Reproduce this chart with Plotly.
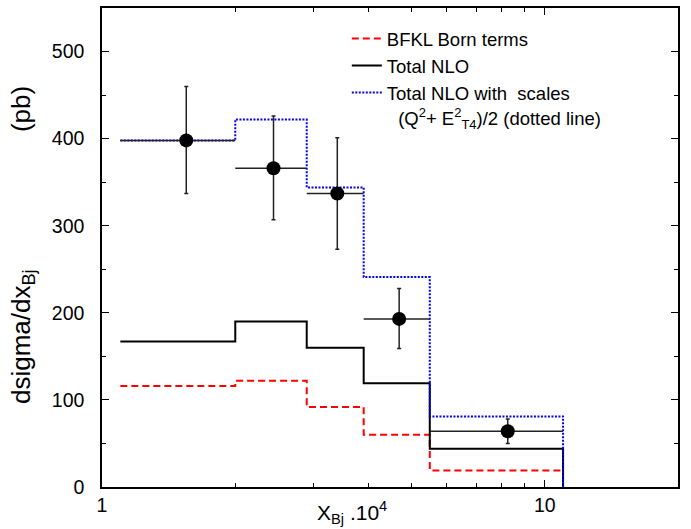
import plotly.graph_objects as go

# ---- data ----
bin_edges = [1.1, 2.0, 2.9, 3.9, 5.5, 11.0]
bfkl_born = [116, 122, 92, 60, 19]
total_nlo = [167, 190, 160, 119, 44]
total_nlo_scales = [398, 422, 344, 241, 81]

data_x = [1.55, 2.44, 3.40, 4.69, 8.25]
data_y = [398, 366, 337, 193, 64]
data_y_hi = [460, 426, 401, 228, 78]
data_y_lo = [337, 307, 273, 159, 50]
data_x_lo = [1.1, 2.0, 2.9, 3.9, 5.5]
data_x_hi = [2.0, 2.9, 3.9, 5.5, 11.0]

y_ticks = [0, 100, 200, 300, 400, 500]
x_ticks = [1, 10]
x_minor = [2, 3, 4, 5, 6, 7, 8, 9, 20]


def step(vals, drop=True):
    xs = list(bin_edges)
    ys = list(vals) + [vals[-1]]
    if drop:
        xs.append(bin_edges[-1])
        ys.append(0)
    return xs, ys


FONT = "Liberation Sans, Arial, Helvetica, sans-serif"
fig = go.Figure()

xs, ys = step(bfkl_born, drop=False)
fig.add_trace(go.Scatter(x=xs, y=ys, mode="lines", line_shape="hv",
                         line=dict(color="#ff0000", width=2, dash="7px,4px"),
                         name="BFKL Born terms"))
xs, ys = step(total_nlo)
fig.add_trace(go.Scatter(x=xs, y=ys, mode="lines", line_shape="hv",
                         line=dict(color="black", width=2),
                         name="Total NLO"))
xs, ys = step(total_nlo_scales)
fig.add_trace(go.Scatter(x=xs, y=ys, mode="lines", line_shape="hv",
                         line=dict(color="#0000ff", width=2, dash="2px,1.5px"),
                         name="Total NLO with\u00a0 scales"))

fig.add_trace(go.Scatter(
    x=data_x, y=data_y, mode="markers",
    marker=dict(color="black", size=14),
    error_y=dict(type="data", symmetric=False,
                 array=[h - v for h, v in zip(data_y_hi, data_y)],
                 arrayminus=[v - l for l, v in zip(data_y_lo, data_y)],
                 color="#222222", thickness=1.5, width=2),
    error_x=dict(type="data", symmetric=False,
                 array=[h - v for h, v in zip(data_x_hi, data_x)],
                 arrayminus=[v - l for l, v in zip(data_x_lo, data_x)],
                 color="#222222", thickness=1.5, width=0),
    showlegend=False))

fig.update_layout(
    width=691, height=529,
    margin=dict(l=102, r=13, t=6, b=42),
    paper_bgcolor="white", plot_bgcolor="white",
    font=dict(family=FONT, color="black", size=19.5),
    showlegend=True,
    legend=dict(x=0.425, y=0.975, xanchor="left", yanchor="top",
                bgcolor="rgba(0,0,0,0)", font=dict(size=18.5),
                tracegroupgap=0),
)
fig.update_xaxes(
    type="log", range=[0, 1.30103],
    tickmode="array", tickvals=x_ticks, ticktext=[str(v) for v in x_ticks],
    ticks="inside", ticklen=7, tickwidth=1.2, tickcolor="black",
    minor=dict(tickmode="array", tickvals=x_minor, ticks="inside", ticklen=4,
               tickwidth=1.2, tickcolor="black"),
    showline=True, linecolor="black", linewidth=1.5, mirror="ticks",
    showgrid=False, zeroline=False, ticklabelstandoff=0,
    tickfont=dict(size=19.5),
)
fig.update_yaxes(
    range=[0, 550], tickmode="array", tickvals=y_ticks,
    ticks="inside", ticklen=7, tickwidth=1.2, tickcolor="black",
    minor=dict(dtick=50, ticks="inside", ticklen=4, tickwidth=1.2, tickcolor="black"),
    showline=True, linecolor="black", linewidth=1.5, mirror="ticks",
    showgrid=False, zeroline=False, ticklabelstandoff=12,
    tickfont=dict(size=19.5),
)

fig.add_annotation(
    text="\u00a0(Q<sup>2</sup>+ E<sup>2</sup><sub>T4</sub>)/2 (dotted line)",
    xref="paper", yref="paper", x=(391 - 102) / 576, y=(487 - 117) / 481,
    xanchor="left", yanchor="middle", showarrow=False,
    font=dict(size=18.5, family=FONT))
fig.add_annotation(
    text="dsigma/dx<sub>Bj</sub>" + "\u00a0" * 19 + "(pb)",
    textangle=-90, xref="paper", yref="paper",
    x=-0.139, y=0.505, xanchor="center", yanchor="middle",
    showarrow=False, font=dict(size=26, family=FONT))
fig.add_annotation(
    text="X<sub>Bj</sub> .10<sup>4</sup>",
    xref="paper", yref="paper", x=0.434, y=-0.054,
    xanchor="center", yanchor="middle",
    showarrow=False, font=dict(size=21, family=FONT))

fig.write_html("out.html", config={"displayModeBar": False},
               post_script="document.body.style.margin='0';document.body.style.padding='0';")
